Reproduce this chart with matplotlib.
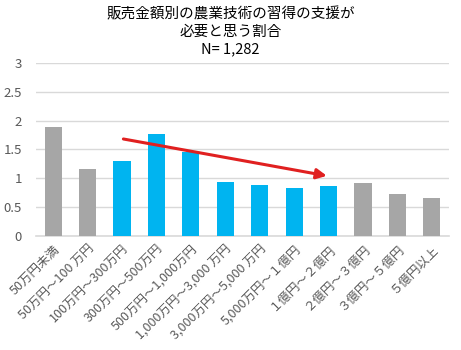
import matplotlib
matplotlib.use("Agg")
import matplotlib.pyplot as plt

plt.rcParams['font.family'] = ['Noto Sans CJK JP', 'DejaVu Sans']

categories = ["50万円未満", "50万円～100 万円", "100万円～300万円", "300万円～500万円",
              "500万円～1,000万円", "1,000万円～3,000 万円", "3,000万円～5,000 万円",
              "5,000万円～１億円", "１億円～２億円", "２億円～３億円", "３億円～５億円", "５億円以上"]
values = [1.89, 1.15, 1.30, 1.76, 1.46, 0.93, 0.875, 0.82, 0.86, 0.915, 0.72, 0.65]
highlight = [False, False, True, True, True, True, True, True, True, False, False, False]
yticks = [0, 0.5, 1, 1.5, 2, 2.5, 3]
ytick_labels = ["0", "0.5", "1", "1.5", "2", "2.5", "3"]
arrow_start = (2.04, 1.68)
arrow_end = (7.95, 1.04)
title = "販売金額別の農業技術の習得の支援が\n必要と思う割合\nN= 1,282"

fig = plt.figure(figsize=(4.61, 3.5), dpi=100)
ax = fig.add_axes([0.078, 0.3266, 0.896, 0.4934])

colors = ['#00B4F0' if h else '#A6A6A6' for h in highlight]
x = list(range(len(categories)))
ax.bar(x, values, width=0.5, color=colors, zorder=3)

ax.set_xlim(-0.5, len(categories) - 0.5)
ax.set_ylim(0, 3)
ax.set_yticks(yticks)
ax.set_yticklabels(ytick_labels, fontsize=9.5, color='#595959')
ax.yaxis.grid(True, color='#D9D9D9', linewidth=1, zorder=0)
ax.set_axisbelow(True)
ax.tick_params(axis='both', length=0)
ax.tick_params(axis='y', pad=10)
for s in ['top', 'right', 'left']:
    ax.spines[s].set_visible(False)
ax.spines['bottom'].set_color('#D9D9D9')
ax.spines['bottom'].set_linewidth(1.2)

ax.set_xticks(x)
ax.set_xticklabels(categories, rotation=45, ha='right', va='top',
                   rotation_mode='anchor', fontsize=9, color='#595959')
ax.tick_params(axis='x', pad=5)

ax.annotate('', xy=arrow_end, xytext=arrow_start,
            arrowprops=dict(arrowstyle='-|>,head_length=0.6,head_width=0.3',
                            color='#E02020', lw=2.2, shrinkA=0, shrinkB=0),
            zorder=5)

fig.text(0.5, 0.98, title, ha='center', va='top', fontsize=10.5,
         color='#000000', linespacing=1.3)

fig.savefig('out.png', dpi=100)
